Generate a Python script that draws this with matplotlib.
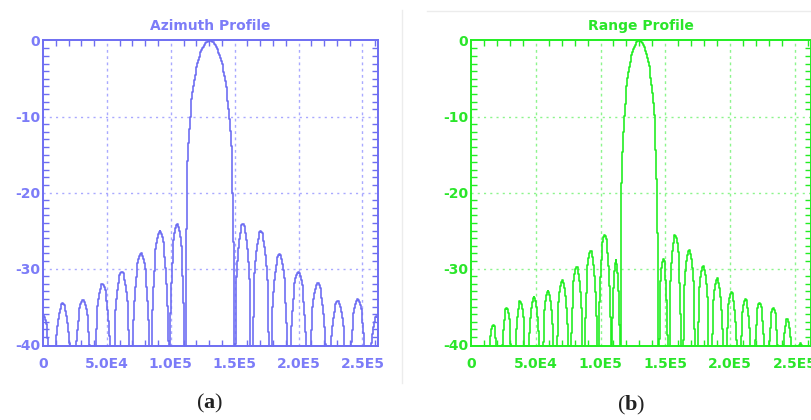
import numpy as np
import matplotlib
matplotlib.use("Agg")
import matplotlib.pyplot as plt
from matplotlib.ticker import MultipleLocator, FixedLocator

# sample axis (samples), both profiles
x_max = 262144
x_ticks = [0, 50000, 100000, 150000, 200000, 250000]
x_labels = ["0", "5.0E4", "1.0E5", "1.5E5", "2.0E5", "2.5E5"]
y_ticks = [0, -10, -20, -30, -40]
y_labels = ["0", "-10", "-20", "-30", "-40"]

# azimuth profile: lobe boundaries (nulls) and lobe peak levels in dB
az_nulls = [-7500, 7500, 23450, 39100, 54100, 69250, 84350, 98800, 111300,
            149700, 163200, 177650, 192400, 207400, 222800, 238600, 254000, 268000]
az_peak_db = [-36.0, -34.6, -34.1, -32.0, -30.4, -28.0, -25.1, -24.1, 0.0,
              -24.1, -25.1, -28.1, -30.4, -31.9, -34.2, -34.0, -36.3]

# range profile
rg_nulls = [12100, 22300, 32800, 43350, 54000, 65000, 76150, 87050, 97950, 108500,
            115400, 144500, 152500, 162950, 173850, 184700, 195600, 206550,
            217450, 228200, 238850, 249250, 259550]
rg_peak_db = [-37.4, -35.2, -34.3, -33.7, -32.9, -31.5, -29.7, -27.6, -25.6, -28.9,
              0.0, -28.8, -25.6, -27.5, -29.6, -31.3, -33.1, -34.0, -34.5,
              -35.2, -36.6, -39.7]

y_floor = -40.2


def profile(nulls, peaks, step=640):
    nulls = np.asarray(nulls, dtype=float)
    peaks = np.asarray(peaks, dtype=float)
    x = np.arange(0, x_max + step, step, dtype=float)
    x = np.unique(np.concatenate([x, nulls[(nulls > 0) & (nulls < x_max)]]))
    idx = np.clip(np.searchsorted(nulls, x, side="right") - 1, 0, len(peaks) - 1)
    a, b = nulls[idx], nulls[idx + 1]
    inside = (x > nulls[0]) & (x < nulls[-1])
    s = np.sin(np.pi * np.clip((x - a) / (b - a), 0, 1))
    y = peaks[idx] + 20 * np.log10(np.maximum(s, 1e-6))
    y[~inside] = y_floor
    return x, np.clip(y, y_floor, None)


def draw_panel(ax, nulls, peaks, title, line_c, text_c, grid_c):
    x, y = profile(nulls, peaks)
    ax.plot(x, y, color=line_c, lw=1.2, drawstyle="steps-mid")
    ax.set_xlim(0, x_max)
    ax.set_ylim(y_floor, 0.1)
    ax.xaxis.set_major_locator(FixedLocator(x_ticks))
    ax.set_xticklabels(x_labels)
    ax.yaxis.set_major_locator(FixedLocator(y_ticks))
    ax.set_yticklabels(y_labels)
    ax.xaxis.set_minor_locator(MultipleLocator(10000))
    ax.yaxis.set_minor_locator(MultipleLocator(1))
    ax.tick_params(which="both", direction="in", top=True, right=True, color=line_c)
    ax.tick_params(which="major", length=0, labelcolor=text_c, labelsize=10)
    ax.tick_params(axis="x", which="major", pad=8)
    ax.tick_params(axis="y", which="major", pad=2)
    ax.tick_params(which="minor", length=4, width=1)
    for lab in ax.get_xticklabels() + ax.get_yticklabels():
        lab.set_fontweight("bold")
    for sp in ax.spines.values():
        sp.set_color(line_c)
        sp.set_linewidth(1.4)
    for t in x_ticks[1:]:
        ax.axvline(t, color=grid_c, lw=1, ls=(0, (2, 2.5)), zorder=0)
    for t in y_ticks[1:-1]:
        ax.axhline(t, color=grid_c, lw=1, ls=(0, (1.5, 3)), zorder=0)
    ax.set_title(title, color=text_c, fontsize=10, fontweight="bold", pad=7)


plt.rcParams["font.family"] = ["DejaVu Sans"]
plt.rcParams["mathtext.fontset"] = "custom"
plt.rcParams["mathtext.bf"] = "Liberation Serif:bold"
plt.rcParams["mathtext.rm"] = "Liberation Serif"

fig = plt.figure(figsize=(8.11, 4.2), dpi=100)
ax1 = fig.add_axes([43 / 811, 74 / 420, 335 / 811, 306 / 420])
ax2 = fig.add_axes([471 / 811, 74 / 420, 339.5 / 811, 306 / 420])

draw_panel(ax1, az_nulls, az_peak_db, "Azimuth Profile", "#6E6EF2", "#7C7CF8", "#A9A9FF")
draw_panel(ax2, rg_nulls, rg_peak_db, "Range Profile", "#22EE22", "#2AE62A", "#8CF58C")

# faint frame lines of the screenshots
fig.add_artist(plt.Line2D([402 / 811, 402 / 811], [1 - 10 / 420, 1 - 383 / 420],
                          color="#ececec", lw=1))
fig.add_artist(plt.Line2D([427 / 811, 1], [1 - 11 / 420, 1 - 11 / 420],
                          color="#ececec", lw=1))

fig.text(210 / 811, 1 - 403 / 420, r"($\mathbf{a}$)", ha="center", va="center",
         fontsize=16, family="Liberation Serif", color="#222222")
fig.text(631 / 811, 1 - 405 / 420, r"($\mathbf{b}$)", ha="center", va="center",
         fontsize=16, family="Liberation Serif", color="#222222")

fig.savefig("out.png", dpi=100)
